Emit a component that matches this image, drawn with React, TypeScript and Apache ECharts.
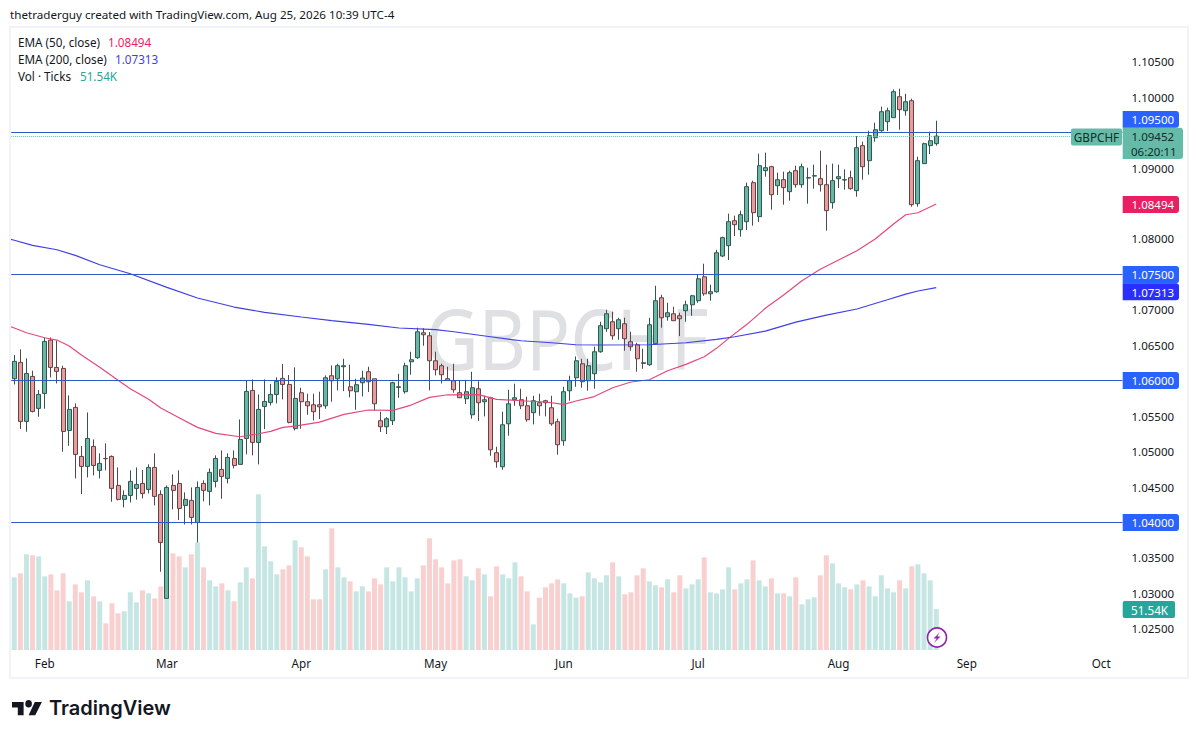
import React, { useEffect, useRef } from "react";
import * as echarts from "echarts";

const opens = [
  1.06028,1.06259,1.05426,1.06061,1.0561,1.05821,1.06574,1.06188,1.06174,1.05299,
  1.05624,1.04932,1.04791,1.05074,1.04735,1.04904,1.04932,1.04523,1.04326,1.04382,
  1.04481,1.04551,1.04467,1.04777,1.04396,1.02929,1.04523,1.04551,1.04241,1.04312,
  1.04001,1.04551,1.04439,1.0458,1.04749,1.04622,1.04904,1.0482,1.05186,1.05864,
  1.0513,1.05638,1.05694,1.05807,1.06033,1.05948,1.05327,1.05831,1.05704,1.05661,
  1.05661,1.05647,1.06071,1.06028,1.06198,1.05915,1.05845,1.05972,1.06127,1.06028,
  1.05436,1.05351,1.05436,1.05906,1.05845,1.06268,1.06325,1.06677,1.06635,1.06282,
  1.06212,1.06028,1.06,1.05831,1.05746,1.0552,1.05887,1.05704,1.0576,1.04984,
  1.04787,1.05393,1.05732,1.05732,1.05647,1.05549,1.0569,1.05718,1.05619,1.05422,
  1.05153,1.05859,1.06042,1.0624,1.06,1.06099,1.06409,1.06734,1.06832,1.06734,
  1.06804,1.0655,1.06508,1.06254,1.06226,1.06522,1.07171,1.06903,1.06945,1.06917,
  1.06988,1.07072,1.07129,1.07467,1.07227,1.07256,1.0776,1.07906,1.08258,1.08131,
  1.08244,1.08795,1.08315,1.08964,1.0902,1.08752,1.08837,1.08668,1.08964,1.08766,
  1.0886,1.08888,1.08851,1.08766,1.08512,1.08851,1.08832,1.08865,1.08682,1.09317,
  1.09105,1.09429,1.09528,1.09655,1.09712,1.10008,1.0981,1.09951,1.08498,1.09063,
  1.09317,1.09345,
];
const closes = [
  1.06273,1.05426,1.06103,1.05567,1.05807,1.06555,1.06188,1.06132,1.05285,1.05596,
  1.04961,1.04791,1.05186,1.04805,1.04834,1.049,1.04481,1.04326,1.04382,1.0458,
  1.04537,1.0441,1.04777,1.04368,1.03719,1.04495,1.04453,1.04199,1.04326,1.04072,
  1.04495,1.04453,1.04707,1.04904,1.0465,1.04918,1.04805,1.05172,1.0585,1.0513,
  1.05596,1.05708,1.05807,1.05991,1.05948,1.05412,1.05751,1.05704,1.05647,1.05563,
  1.05633,1.06042,1.06,1.06212,1.06212,1.05859,1.05944,1.06038,1.05986,1.05675,
  1.05351,1.05464,1.05972,1.05915,1.06212,1.06296,1.06691,1.06649,1.06282,1.06155,
  1.06085,1.06005,1.05873,1.0576,1.05845,1.05901,1.0569,1.05732,1.05026,1.04857,
  1.05379,1.05675,1.0576,1.05647,1.0545,1.05718,1.05647,1.0569,1.05393,1.05097,
  1.05845,1.06,1.06282,1.05986,1.06212,1.06409,1.06776,1.06945,1.06635,1.06861,
  1.06593,1.0648,1.0631,1.06245,1.0679,1.07129,1.06889,1.06959,1.06847,1.06875,
  1.07072,1.07199,1.07439,1.07227,1.07256,1.07806,1.08019,1.08244,1.08202,1.08343,
  1.08738,1.08371,1.09034,1.09006,1.08625,1.08837,1.08724,1.08936,1.08766,1.0902,
  1.08865,1.08893,1.08766,1.084,1.08823,1.08879,1.08837,1.0871,1.09288,1.0902,
  1.09458,1.09542,1.09796,1.0981,1.10078,1.09825,1.09937,1.08484,1.09105,1.09345,
  1.09387,1.09452,
];
const highs = [
  1.06362,1.06442,1.06315,1.06141,1.05868,1.06611,1.06611,1.06564,1.06212,1.05793,
  1.0568,1.05078,1.05553,1.05172,1.04975,1.05116,1.04947,1.04777,1.04453,1.04735,
  1.04777,1.0474,1.0482,1.04975,1.04453,1.04523,1.04678,1.04735,1.04425,1.04495,
  1.0458,1.04594,1.04763,1.04947,1.05017,1.04975,1.05017,1.05454,1.06009,1.06019,
  1.05807,1.06019,1.05953,1.06047,1.06235,1.0608,1.06188,1.05901,1.05817,1.05817,
  1.05845,1.06075,1.06216,1.0624,1.0631,1.06226,1.06028,1.06141,1.06198,1.06028,
  1.05563,1.05487,1.05986,1.06099,1.06254,1.06409,1.06748,1.06743,1.06687,1.06409,
  1.0624,1.06198,1.0624,1.06,1.06014,1.06127,1.05991,1.05788,1.05774,1.05069,
  1.05563,1.05873,1.05958,1.05887,1.05774,1.05788,1.05817,1.05732,1.05788,1.05464,
  1.05915,1.06071,1.06343,1.0631,1.0631,1.0648,1.06832,1.07002,1.06974,1.06889,
  1.06889,1.06691,1.06536,1.06451,1.06889,1.0734,1.07213,1.071,1.07044,1.06959,
  1.07129,1.07213,1.07496,1.07651,1.07354,1.07848,1.08033,1.08357,1.08329,1.084,
  1.08795,1.08823,1.09204,1.09218,1.09034,1.08936,1.0895,1.08964,1.09034,1.09063,
  1.09006,1.09049,1.09246,1.09049,1.09063,1.09049,1.08983,1.08964,1.09453,1.09373,
  1.09528,1.09641,1.09867,1.09853,1.10111,1.10121,1.1005,1.0998,1.09161,1.09359,
  1.09514,1.09669,
];
const lows = [
  1.05948,1.05318,1.0528,1.05553,1.05492,1.05605,1.06047,1.05962,1.04998,1.05083,
  1.04622,1.04401,1.04636,1.04664,1.04622,1.04735,1.04293,1.04312,1.04213,1.04283,
  1.04321,1.0434,1.0441,1.04241,1.03305,1.02929,1.04185,1.04034,1.03973,1.03973,
  1.03719,1.04298,1.04241,1.04495,1.04335,1.04551,1.04763,1.0482,1.04961,1.04947,
  1.0482,1.05318,1.05652,1.0568,1.05737,1.05398,1.05299,1.05323,1.0552,1.0544,
  1.05459,1.05605,1.05704,1.05864,1.05854,1.05765,1.05591,1.05779,1.0584,1.05581,
  1.05276,1.05248,1.05375,1.0576,1.05817,1.06085,1.0631,1.06494,1.05864,1.06075,
  1.05962,1.06005,1.05831,1.0576,1.05671,1.05464,1.05431,1.05497,1.04942,1.04773,
  1.04744,1.05224,1.05647,1.056,1.05422,1.05384,1.05506,1.05497,1.05365,1.04956,
  1.05083,1.05718,1.05915,1.05901,1.05859,1.05887,1.06395,1.06691,1.06578,1.06578,
  1.06423,1.06423,1.06127,1.06169,1.06212,1.06508,1.06748,1.06847,1.06847,1.0663,
  1.06832,1.06917,1.071,1.07199,1.07129,1.07242,1.07746,1.07703,1.08042,1.08033,
  1.08127,1.08188,1.0824,1.08879,1.08414,1.08621,1.08484,1.08541,1.08724,1.08724,
  1.08498,1.0871,1.08668,1.08117,1.08428,1.08719,1.08696,1.08696,1.08597,1.08837,
  1.08907,1.09373,1.09514,1.09524,1.09712,1.09542,1.0974,1.08456,1.08456,1.09063,
  1.09199,1.09317,
];
const volumes = [
  91.3,96.4,120.3,119,117.7,92.6,95.1,75,96.4,61.2,
  82.5,72.5,87.6,67.5,61.2,33.5,58.7,46.1,48.6,72.5,
  59.9,75,71.2,64.9,80,64.9,121.5,117.7,103.9,120.3,
  135.3,103.9,87.6,80,83.8,75,61.2,85.1,103.9,90.1,
  195.7,130.3,111.5,95.1,101.4,106.4,137.9,129.1,117.7,63.7,
  63.7,101.4,152.9,103.9,91.3,86.3,73.7,80,73.7,90.1,
  82.5,103.9,86.3,103.9,91.3,73.7,90.1,106.4,140.4,114,
  103.9,83.8,112.7,114,92.6,87.6,102.7,95.1,67.5,105.2,
  95.1,90.1,110.2,92.6,73.7,32.3,65.8,78.8,83.8,88.8,
  83.8,71.2,65.8,67.5,97.6,90.1,85.1,93.9,110.2,92.6,
  70,72.5,93.9,102.7,86.3,81.3,78.8,88.8,72.5,93.9,
  77.5,82.5,88.8,116.5,72.5,71.2,76.3,103.9,76.3,83.8,
  88.8,112.7,87.6,80,90.1,71.2,71.2,67.5,91.3,57.4,
  63.7,66.2,93.9,119,108.9,83.8,78.8,76.3,82.5,87.6,
  80,67.5,93.9,77.5,72.5,87.6,77.5,105.2,107.7,96.4,
  87.6,51.54,
];
const ema50Idx = [-1,0,2,5,7,9,11,14,17,19,22,24,27,30,33,37,40,42,44,46,50,54,58,62,65,68,71,76,79,83,87,90,92,95,98,101,104,107,110,113,115,117,120,123,126,129,132,135,138,141,144,146,148,151];
const ema50Val = [1.06775,1.06744,1.06677,1.06607,1.06574,1.0649,1.06363,1.06189,1.06006,1.05887,1.05738,1.05615,1.05478,1.05342,1.05258,1.0521,1.05252,1.05286,1.05342,1.05361,1.05417,1.05526,1.05587,1.05582,1.05657,1.05766,1.05802,1.05805,1.05738,1.05718,1.057,1.05667,1.05714,1.05777,1.05901,1.05982,1.06014,1.06141,1.06231,1.06339,1.06457,1.06598,1.06796,1.07022,1.07209,1.07411,1.07572,1.07703,1.07834,1.08,1.08211,1.08342,1.0837,1.08494];
const ema200Idx = [-1,0,3,7,10,14,19,25,30,36,41,47,52,58,63,69,72,78,83,88,92,96,104,110,115,118,123,128,133,138,143,146,148,151];
const ema200Val = [1.08005,1.07982,1.07911,1.07848,1.07769,1.07637,1.0751,1.07318,1.07167,1.0704,1.06965,1.06899,1.06847,1.06796,1.06744,1.0672,1.06691,1.06621,1.06564,1.06536,1.06508,1.06504,1.06508,1.06536,1.06584,1.06621,1.06701,1.06828,1.06927,1.07012,1.07143,1.07223,1.07266,1.07313];

const levels = [1.095, 1.075, 1.06, 1.04];
const priceTicks = [1.105,1.1,1.09,1.08,1.07,1.065,1.055,1.05,1.045,1.035,1.03,1.025];
const monthStarts = ["2026-02-02","2026-03-02","2026-04-01","2026-05-01","2026-06-01","2026-07-01","2026-08-03","2026-09-01","2026-10-01"];
const monthNames = ["Feb","Mar","Apr","May","Jun","Jul","Aug","Sep","Oct"];
const lastPrice = 1.09452;

const categories: string[] = [];
for (let t = Date.UTC(2026, 0, 26); categories.length < 182; t += 86400000) {
  const d = new Date(t);
  if (d.getUTCDay() !== 0 && d.getUTCDay() !== 6) categories.push(d.toISOString().slice(0, 10));
}

const FONT = "Noto Sans";
const INK = "#131722";
const UP = "#66b8a6";
const DOWN = "#ec9a9c";
const LINE = "#2f5bc0";

echarts.graphic.registerShape(
  "tvlogo",
  echarts.graphic.extendPath("M14 6H0v6h7v8h7V6Z M28 20h-8l7.5-14H36l-8 14Z M24 8a4 4 0 1 1-8 0a4 4 0 1 1 8 0Z", {}) as any
);

function label(text: string, x: number, y: number, fill: string, size = 11.7, weight = "normal", align = "left") {
  return {
    type: "text",
    z: 100,
    silent: true,
    style: { text, x, y, fill, font: `${weight} ${size}px "${FONT}"`, textAlign: align, textVerticalAlign: "middle" },
  };
}

function box(text: string, y: number, h: number, fill: string) {
  return [
    { type: "rect", z: 99, silent: true, shape: { x: 1122.7, y, width: 56.3, height: h, r: [0, 3, 3, 0] }, style: { fill } },
    label(text, 1131.5, y + h / 2 + 0.3, "#ffffff", 11.5),
  ];
}

const graphicElements: any[] = [
  { type: "rect", z: 98, silent: true, shape: { x: 10, y: 27, width: 1178, height: 651 }, style: { fill: "none", stroke: "#f0f3fa", lineWidth: 2 } },
  label("thetraderguy created with TradingView.com, Aug 25, 2026 10:39 UTC-4", 10, 14.5, INK, 11.65),
  label("EMA (50, close)", 18, 41.5, INK),
  label("1.08494", 108, 41.5, "#e91e63"),
  label("EMA (200, close)", 18, 58.5, INK),
  label("1.07313", 115, 58.5, "#3f3fe8"),
  label("Vol · Ticks", 18, 75.5, INK),
  label("51.54K", 80, 75.5, "#26a69a"),
  {
    type: "text", z: -5, silent: true, x: 567, y: 337, scaleX: 0.87,
    style: { text: "GBPCHF", x: 0, y: 0, fill: "#dfe0e3", font: `84px "${FONT}"`, textAlign: "center", textVerticalAlign: "middle" },
  },
  { type: "rect", z: 99, silent: true, shape: { x: 1071, y: 128.5, width: 51, height: 17, r: 2 }, style: { fill: "#66bba8" } },
  label("GBPCHF", 1096.5, 137.3, "#0f2b27", 11.7, "normal", "center"),
  { type: "rect", z: 99, silent: true, shape: { x: 1122.7, y: 127.7, width: 60.3, height: 31.3, r: [0, 3, 3, 0] }, style: { fill: "#66bba8" } },
  label(lastPrice.toFixed(5), 1131.5, 136.3, "#0f2b27", 11.5),
  label("06:20:11", 1131, 151.3, "#0f2b27", 11.5),
  ...box("1.09500", 111, 16.7, "#2962ff"),
  ...box("1.08494", 196, 17, "#e91e63"),
  ...box("1.07500", 266, 17.2, "#2962ff"),
  ...box("1.07313", 283.2, 17, "#2a2eff"),
  ...box("1.06000", 372, 17, "#2962ff"),
  ...box("1.04000", 514, 17, "#2962ff"),
  { type: "rect", z: 99, silent: true, shape: { x: 1122.7, y: 601, width: 52.3, height: 17, r: 2 }, style: { fill: "#26a69a" } },
  label("51.54K", 1131, 609.8, "#ffffff", 11.7),
  { type: "circle", z: 99, silent: true, shape: { cx: 937, cy: 637.5, r: 9.5 }, style: { fill: "#ffffff", stroke: "#8e24aa", lineWidth: 1.6 } },
  { type: "polygon", z: 100, silent: true, shape: { points: [[940, 632], [933.5, 638.5], [936.8, 638.5], [934, 643], [940.5, 636.5], [937.2, 636.5]] }, style: { fill: "#8e24aa" } },
  { type: "tvlogo", z: 99, silent: true, x: 12, y: 696.2, scaleX: 0.83, scaleY: 0.95, style: { fill: "#131722" } },
  {
    type: "text", z: 99, silent: true,
    style: { text: "TradingView", x: 49, y: 708, fill: "#131722", font: `600 20px "Inter"`, textAlign: "left", textVerticalAlign: "middle" },
  },
];

export default function App() {
  const ref = useRef<HTMLDivElement>(null);
  useEffect(() => {
    const chart = echarts.init(ref.current!, undefined, { renderer: "svg" });
    const candles = opens.map((o, i) => [o, closes[i], lows[i], highs[i]]);
    const volumeData = volumes.map((v, i) => ({
      value: v,
      itemStyle: { color: closes[i] >= opens[i] ? "#c6e6e3" : "#f9d0d0" },
    }));
    chart.setOption({
      animation: false,
      backgroundColor: "#ffffff",
      grid: { left: 11.2, top: 28, width: 1111.3, height: 622, containLabel: false },
      xAxis: {
        type: "category",
        data: categories,
        axisLine: { show: false },
        axisTick: { show: false },
        splitLine: { show: false },
        axisLabel: {
          color: INK,
          fontFamily: FONT,
          fontSize: 11.7,
          margin: 7,
          hideOverlap: false,
          interval: (_: number, v: string) => monthStarts.includes(v),
          formatter: (v: string) => monthNames[monthStarts.indexOf(v)] ?? "",
        },
      },
      yAxis: [
        {
          type: "value",
          position: "right",
          min: 1.02201,
          max: 1.10977,
          scale: true,
          axisLine: { show: false },
          axisTick: { show: false },
          splitLine: { show: false },
          axisLabel: {
            customValues: priceTicks,
            color: INK,
            fontFamily: FONT,
            fontSize: 11.5,
            margin: 9,
            formatter: (v: number) => v.toFixed(5),
          },
        },
        { type: "value", min: 0, max: 782, show: false },
      ],
      series: [
        {
          name: "Vol",
          type: "bar",
          yAxisIndex: 1,
          barWidth: 5,
          silent: true,
          data: volumeData,
        },
        {
          name: "EMA 50",
          type: "line",
          symbol: "none",
          silent: true,
          lineStyle: { color: "#e4487c", width: 1.2 },
          data: ema50Idx.map((x, i) => [x, ema50Val[i]]),
          markLine: {
            silent: true,
            symbol: "none",
            animation: false,
            precision: 5,
            label: { show: false },
            data: [
              ...levels.map((v) => ({ yAxis: v, lineStyle: { color: LINE, width: 1, type: "solid" } })),
              { yAxis: lastPrice, lineStyle: { color: "#66bba8", width: 1, type: "dotted" } },
            ],
          },
        },
        {
          name: "EMA 200",
          type: "line",
          symbol: "none",
          silent: true,
          lineStyle: { color: "#3f3fe8", width: 1.2 },
          data: ema200Idx.map((x, i) => [x, ema200Val[i]]),
        },
        {
          name: "GBPCHF",
          type: "candlestick",
          barWidth: 4.5,
          silent: true,
          itemStyle: {
            color: UP,
            color0: DOWN,
            borderColor: "#34544f",
            borderColor0: "#5c4546",
            borderColorDoji: "#3b4a48",
            borderWidth: 1,
          },
          data: candles,
        },
      ],
      graphic: { elements: graphicElements },
    });
    return () => chart.dispose();
  }, []);
  return <div ref={ref} style={{ position: "absolute", left: 0, top: 0, width: 1198, height: 738 }} />;
}
